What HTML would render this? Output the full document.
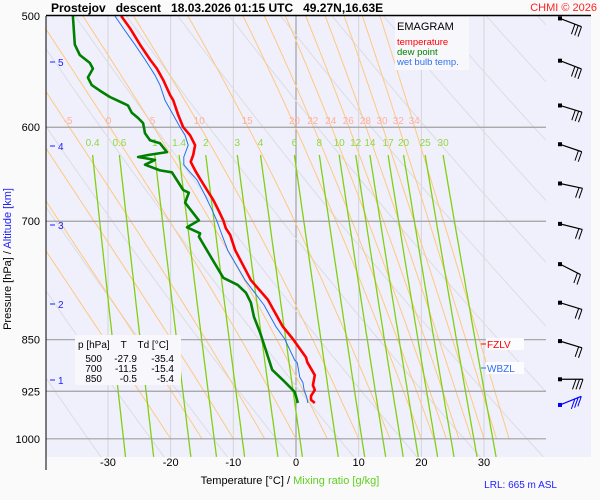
<!DOCTYPE html>
<html><head><meta charset="utf-8"><style>
html,body{margin:0;padding:0;background:#fafafa;}
svg{display:block;font-family:"Liberation Sans",sans-serif;}
</style></head><body>
<svg id="chart" width="600" height="500" viewBox="0 0 600 500">
<defs><clipPath id="plotclip"><rect x="46" y="16" width="500" height="441"/></clipPath></defs>
<rect x="0" y="0" width="600" height="500" fill="#fafafa"/>
<rect x="46" y="16" width="545" height="441" fill="#f0f0fc"/>
<g id="grid" clip-path="url(#plotclip)"></g>
<g id="series" clip-path="url(#plotclip)"></g>
<g id="labels"></g>
<line x1="46" y1="15.5" x2="591" y2="15.5" stroke="#000" stroke-width="1.5"/>
<line x1="46" y1="16" x2="46" y2="470" stroke="#000" stroke-width="1"/>
<text x="51" y="12" font-size="12" font-weight="bold" xml:space="preserve">Prostejov   descent   18.03.2026 01:15 UTC   49.27N,16.63E</text>
<text x="597" y="11" font-size="11" fill="#ff2020" text-anchor="end">CHMI © 2026</text>
<g>
<rect x="395" y="17" width="74" height="53" fill="#f8f8fc"/>
<text x="397" y="30" font-size="11">EMAGRAM</text>
<text x="397" y="45" font-size="9.5" fill="#ff0000">temperature</text>
<text x="397" y="55" font-size="9.5" fill="#008000">dew point</text>
<text x="397" y="65" font-size="9.5" fill="#3070f0">wet bulb temp.</text>
</g>
<g>
<rect x="75" y="335" width="106" height="50" fill="#f8f8fc"/>
<text x="78" y="348" font-size="10" xml:space="preserve">p [hPa]    T    Td [°C]</text>
<g font-size="10" text-anchor="end">
<text x="102" y="362">500</text>
<text x="137" y="362">-27.9</text>
<text x="174" y="362">-35.4</text>
<text x="102" y="372">700</text>
<text x="137" y="372">-11.5</text>
<text x="174" y="372">-15.4</text>
<text x="102" y="382">850</text>
<text x="137" y="382">-0.5</text>
<text x="174" y="382">-5.4</text>
</g></g>
<g>
<rect x="486" y="338" width="38" height="12" fill="#fcfcfe"/>
<line x1="481" y1="344" x2="486" y2="344" stroke="#ff0000"/>
<text x="487" y="348" font-size="10" fill="#ff0000">FZLV</text>
</g>
<g>
<rect x="486" y="362" width="38" height="12" fill="#fcfcfe"/>
<line x1="481" y1="368" x2="486" y2="368" stroke="#3070f0"/>
<text x="487" y="372" font-size="10" fill="#3070f0">WBZL</text>
</g>
<text x="0" y="0" font-size="11" transform="translate(11,259) rotate(-90)" text-anchor="middle"><tspan fill="#000">Pressure [hPa]  /  </tspan><tspan fill="#2020ff">Altitude [km]</tspan></text>
<text x="290" y="484" font-size="11" text-anchor="middle"><tspan fill="#000">Temperature [°C]  /  </tspan><tspan fill="#60d020">Mixing ratio [g/kg]</tspan></text>
<text x="557" y="488" font-size="10" fill="#2020ff" text-anchor="end">LRL: 665 m ASL</text>
<g id="barbs"></g>
</svg>
<script>
// ---- data ----
const pressureTicks = [500, 600, 700, 850, 925, 1000];
const tempTicks = [-30, -20, -10, 0, 10, 20, 30];
const altitudeKm = [5, 4, 3, 2, 1];
const altitudeY = [62, 146, 225, 304, 380];
const mixingRatios = [0.4, 0.6, 1, 1.4, 2, 3, 4, 6, 8, 10, 12, 14, 17, 20, 25, 30];
const thetaW = [-20, -15, -10, -5, 0, 5, 10, 15, 20, 22, 24, 26, 28, 30, 32, 34];
const thetaWLabels = [-5, 0, 5, 10, 15, 20, 22, 24, 26, 28, 30, 32, 34];
const thetaDry = [240, 250, 260, 270, 280, 290, 300, 310, 320, 330, 340, 350, 360, 370, 380, 390, 400, 410, 420];
const tempP = [500,510,524,537,545,555,569,574,588,600,608,618,628,635,644,654,665,676,687,699,708,716,734,771,796,832,849,875,882,901,916,923,932,938,943];
const tempT = [-27.9,-26.5,-24.9,-23.3,-22.2,-21.2,-20.1,-19.6,-18.8,-18.0,-16.9,-16.1,-16.4,-16.8,-16.1,-15.2,-14.2,-13.2,-12.4,-11.6,-11.2,-10.5,-9.7,-7.2,-4.5,-2.1,-0.5,1.6,1.8,3.0,2.7,3.0,2.4,2.4,3.0];
const dewP = [500,524,533,540,545,553,560,565,571,574,579,586,591,596,606,613,616,625,628,630,633,638,644,646,665,668,679,699,707,714,718,742,768,777,787,800,819,841,865,893,908,926,943];
const dewT = [-35.6,-35.3,-34.5,-32.9,-32.4,-33.2,-32.6,-31.3,-29.7,-28.6,-26.8,-26.2,-25.2,-24.4,-24.1,-23.3,-21.7,-20.6,-23.6,-25.2,-22.5,-24.1,-21.7,-19.8,-18.0,-17.1,-17.7,-15.5,-17.4,-15.3,-15.5,-13.6,-11.6,-9.3,-8.0,-7.2,-6.7,-5.7,-4.8,-3.8,-2.1,-0.2,0.3];
const wetP = [500,512,524,537,551,560,574,588,600,608,618,630,638,646,654,671,687,700,716,734,771,803,832,849,879,883,904,912,923,934,943];
const wetT = [-28.9,-27.3,-25.7,-24.1,-22.5,-21.7,-20.9,-19.6,-18.5,-17.7,-17.2,-17.9,-17.9,-16.9,-15.8,-14.5,-13.4,-12.6,-11.8,-10.9,-8.1,-5.1,-3.2,-1.8,-0.2,0.2,0.6,1.1,1.3,1.7,1.9];
const windP = [502,538,579,617,658,703,751,800,852,907,946];
const windAngle = [21,21,17,19,12,14,27,17,17,0,-22];
const windFeathers = [3,3,3,2,2,2,2,2,2,3,3];

// ---- scales ----
const X0 = 296, XS = 6.267, Y0 = 16, YS = 610;
function xT(t){ return X0 + t*XS; }
function yP(p){ return Y0 + YS*Math.log(p/500); }
const NS = "http://www.w3.org/2000/svg";
const grid = document.getElementById('grid');
const series = document.getElementById('series');
const labels = document.getElementById('labels');
const barbs = document.getElementById('barbs');
function mk(tag, attrs, parent){ const e=document.createElementNS(NS,tag); for(const k in attrs) e.setAttribute(k, attrs[k]); parent.appendChild(e); return e; }
function pts(arr){ return arr.map(a=>a[0].toFixed(1)+','+a[1].toFixed(1)).join(' '); }

// isotherms
tempTicks.forEach(t=>{
  const l = mk('line',{x1:xT(t),y1:16,x2:xT(t),y2:457,stroke:t===0?'#909090':'#d4d4d8','stroke-width':1},grid);
  
  
  const tx = mk('text',{x:xT(t),y:466,'font-size':11,'text-anchor':'middle'},labels);
  tx.textContent = t;
  
  
});
// dry adiabats
thetaDry.forEach(th=>{
  const a=[]; for(let p=500;p<=1040;p+=10){ a.push([xT(th*Math.pow(p/1000,0.2857)-273.15), yP(p)]); }
  const l = mk('polyline',{points:pts(a),fill:'none',stroke:'#dcdce0','stroke-width':1},grid);
  
  
});
// moist adiabats
function esat(Tc){ return 6.112*Math.exp(17.67*Tc/(Tc+243.5)); }
function dTdp(p,T){ const es=esat(T-273.15); const rs=0.622*es/(p-es);
  const num=287.04*T+2.501e6*rs; const den=1005.7+(2.501e6*2.501e6*rs*0.622)/(287.04*T*T); return num/den/p; }
const moistAt600 = {};
thetaW.forEach(tw=>{
  let T=tw+273.15, p=1000; const a=[[xT(tw),yP(1000)]];
  while(p>500){ const h=-2; const k1=dTdp(p,T); const k2=dTdp(p+h,T+h*k1); T+=h*(k1+k2)/2; p+=h; a.push([xT(T-273.15),yP(p)]); if(Math.abs(p-598)<0.5) moistAt600[tw]=xT(T-273.15); }
  const l = mk('polyline',{points:pts(a),fill:'none',stroke:'#ffc880','stroke-width':1},grid);
  
  
});
thetaWLabels.forEach(tw=>{
  const tx = mk('text',{x:moistAt600[tw],y:124,'font-size':10,fill:'#ffb0a0','text-anchor':'middle'},grid);
  tx.textContent = tw;
  
  
});
// mixing ratio lines
function tdFromW(w,p){ const e=w*p/(622+w); const l=Math.log(e/6.112); return 243.5*l/(17.67-l); }
mixingRatios.forEach(w=>{
  const a=[]; for(let p=628;p<=1035;p+=6){ a.push([xT(tdFromW(w,p)), yP(p)]); }
  const l = mk('polyline',{points:pts(a),fill:'none',stroke:'#80d010','stroke-width':1.3},grid);
  
  
  const tx = mk('text',{x:xT(tdFromW(w,628)),y:146,'font-size':10,fill:'#90d840','text-anchor':'middle'},grid);
  tx.textContent = w;
  
  
});
// isobars
pressureTicks.forEach(p=>{
  if(p>500){
    const l = mk('line',{x1:46,y1:yP(p),x2:546,y2:yP(p),stroke:'#a0a0a0','stroke-width':1.2},grid);
    
    
  }
  const tx = mk('text',{x:40,y:yP(p)+4,'font-size':11,'text-anchor':'end'},labels);
  tx.textContent = p;
  
  
});
// altitude ticks
altitudeKm.forEach((k,i)=>{
  const l = mk('line',{x1:50,y1:altitudeY[i],x2:55,y2:altitudeY[i],stroke:'#2020ff','stroke-width':1},labels);
  
  
  const tx = mk('text',{x:58,y:altitudeY[i]+4,'font-size':10,fill:'#2020ff'},labels);
  tx.textContent = k;
  
  
});
// profiles
function profile(P,T,color,w,name){
  const a=P.map((p,i)=>[xT(T[i]),yP(p)]);
  const l = mk('polyline',{points:pts(a),fill:'none',stroke:color,'stroke-width':w,'stroke-linejoin':'round'},series);
  
  
}
profile(wetP,wetT,'#2070f0',1,'wetbulb-line');
profile(dewP,dewT,'#008000',2.6,'dewpoint-line');
profile(tempP,tempT,'#ff0000',2.6,'temperature-line');
// wind barbs
windP.forEach((p,i)=>{
  const y=yP(p), x=560, a=windAngle[i]*Math.PI/180, L=23;
  const col = i===windP.length-1 ? '#0000ff' : '#000';
  const ux=Math.cos(a), uy=Math.sin(a);
  const ex=x+L*ux, ey=y+L*uy;
  const g = mk('g',{},barbs);
  
  
  mk('rect',{x:x-2,y:y-2,width:4,height:4,fill:col},g);
  mk('line',{x1:x,y1:y,x2:ex,y2:ey,stroke:col,'stroke-width':1.2},g);
  for(let f=0;f<windFeathers[i];f++){
    const bx=ex-f*3.5*ux, by=ey-f*3.5*uy;
    mk('line',{x1:bx,y1:by,x2:bx-3.5,y2:by+10,stroke:col,'stroke-width':1},g);
  }
});
</script>
</body></html>
